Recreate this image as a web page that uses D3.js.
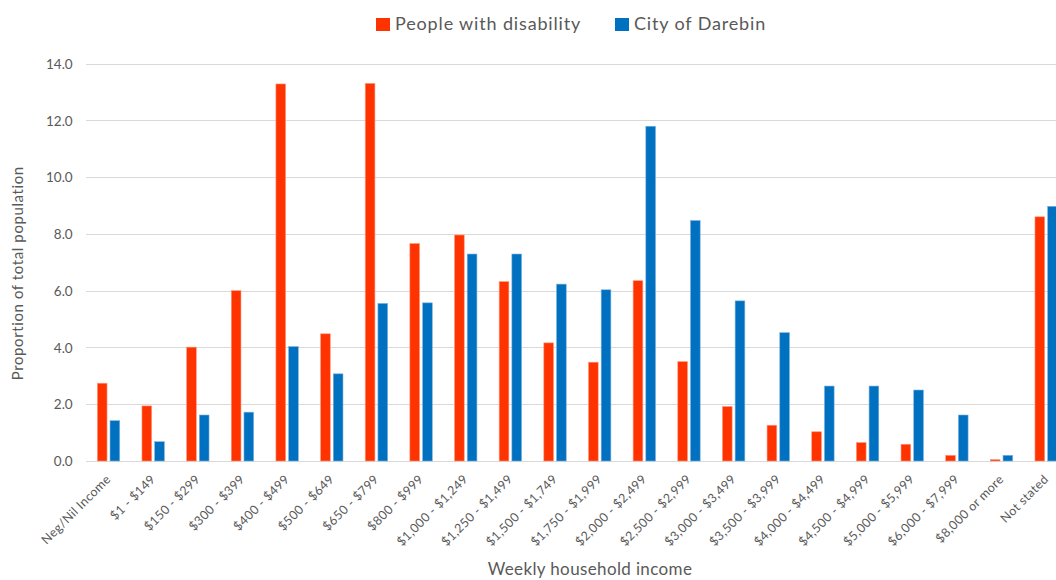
<!DOCTYPE html>
<html>
<head>
<meta charset="utf-8">
<script src="https://cdn.jsdelivr.net/npm/d3@7"></script>
<style>
  html, body { margin: 0; padding: 0; background: #fff; overflow: hidden; }
  svg { display: block; font-family: Lato, "Open Sans", sans-serif; }
</style>
</head>
<body>
<svg id="chart" width="1056" height="580"></svg>
<script>
// Weekly household income brackets
const categories = [
  "Neg/Nil Income", "$1 - $149", "$150 - $299", "$300 - $399", "$400 - $499",
  "$500 - $649", "$650 - $799", "$800 - $999", "$1,000 - $1,249", "$1,250 - $1,499",
  "$1,500 - $1,749", "$1,750 - $1,999", "$2,000 - $2,499", "$2,500 - $2,999",
  "$3,000 - $3,499", "$3,500 - $3,999", "$4,000 - $4,499", "$4,500 - $4,999",
  "$5,000 - $5,999", "$6,000 - $7,999", "$8,000 or more", "Not stated"
];

// Proportion of total population (%)
const disability = [
  2.74, 1.94, 4.01, 6.00, 13.28, 4.48, 13.30, 7.66, 7.96, 6.32, 4.16,
  3.48, 6.35, 3.50, 1.92, 1.26, 1.03, 0.65, 0.59, 0.20, 0.05, 8.60
];
const darebin = [
  1.42, 0.68, 1.62, 1.72, 4.03, 3.07, 5.55, 5.57, 7.29, 7.29, 6.23,
  6.03, 11.79, 8.47, 5.64, 4.52, 2.64, 2.64, 2.50, 1.62, 0.20, 8.97
];

const seriesNames = ["People with disability", "City of Darebin"];
const yTicks = [0, 2, 4, 6, 8, 10, 12, 14];

const colors = { "People with disability": "#ff3300", "City of Darebin": "#0070c0" };
const strokes = { "People with disability": "#ff9a80", "City of Darebin": "#7fb3dd" };

const svg = d3.select("#chart");
const textColor = "#595959";

// Plot area (runs slightly past the right edge of the page)
const plotLeft = 86.2, plotRight = 1068.5, plotTop = 63.5, plotBottom = 461;

const x0 = d3.scaleBand().domain(categories).range([plotLeft, plotRight])
  .paddingInner(0.498).paddingOuter(0.249);
const x1 = d3.scaleBand().domain(seriesNames).range([0, x0.bandwidth()])
  .paddingInner(0.236).paddingOuter(0);
const y = d3.scaleLinear().domain([0, 14]).range([plotBottom, plotTop]);

// Horizontal gridlines
svg.append("g").selectAll("line").data(yTicks).join("line")
  .attr("x1", plotLeft).attr("x2", plotRight)
  .attr("y1", d => Math.round(y(d)) + 0.5).attr("y2", d => Math.round(y(d)) + 0.5)
  .attr("stroke", "#d9d9d9").attr("stroke-width", 1.2);

// Y axis labels
const yAxis = d3.axisLeft(y).tickValues(yTicks).tickFormat(d3.format(".1f")).tickSize(0).tickPadding(0);
const gy = svg.append("g").attr("transform", `translate(${plotLeft - 13.5},0)`).call(yAxis);
gy.select(".domain").remove();
gy.selectAll("text").attr("fill", textColor).style("font-size", "13.5px")
  .style("font-family", "Lato, sans-serif").attr("dy", "0.35em");

// Bars
const rows = categories.map((c, i) => ({ cat: c, values: [disability[i], darebin[i]] }));
const groups = svg.append("g").selectAll("g").data(rows).join("g")
  .attr("transform", d => `translate(${x0(d.cat)},0)`);
groups.selectAll("rect")
  .data(d => seriesNames.map((s, k) => ({ s, v: d.values[k] })))
  .join("rect")
  .attr("x", d => x1(d.s))
  .attr("width", x1.bandwidth())
  .attr("y", d => y(d.v))
  .attr("height", d => y(0) - y(d.v))
  .attr("fill", d => colors[d.s])
  .attr("stroke", d => strokes[d.s])
  .attr("stroke-width", 0.6);

// X axis category labels, rotated
const xAxis = d3.axisBottom(x0).tickSize(0).tickPadding(0);
const gx = svg.append("g").attr("transform", `translate(0,${plotBottom})`).call(xAxis);
gx.select(".domain").remove();
gx.selectAll(".tick text")
  .attr("fill", textColor)
  .style("font-size", "12.5px")
  .style("letter-spacing", "0.35px")
  .style("font-family", "Lato, sans-serif")
  .attr("text-anchor", "end")
  .attr("dy", 0)
  .attr("transform", "translate(3,19) rotate(-45)");

// Axis titles
svg.append("text")
  .attr("transform", `translate(23,${(plotTop + plotBottom) / 2 + 11}) rotate(-90)`)
  .attr("text-anchor", "middle")
  .attr("fill", textColor)
  .style("font-size", "15px")
  .style("letter-spacing", "0.6px")
  .text("Proportion of total population");

svg.append("text")
  .attr("x", 590).attr("y", 575)
  .attr("text-anchor", "middle")
  .attr("fill", textColor)
  .style("font-size", "17px")
  .style("letter-spacing", "0.37px")
  .text("Weekly household income");

// Legend
const legend = svg.append("g");
const legendItems = [
  { name: seriesNames[0], x: 376 },
  { name: seriesNames[1], x: 615 }
];
legendItems.forEach(it => {
  legend.append("rect")
    .attr("x", it.x).attr("y", 18).attr("width", 14).attr("height", 13)
    .attr("fill", colors[it.name]);
  legend.append("text")
    .attr("x", it.x + 19).attr("y", 30)
    .attr("fill", textColor)
    .style("font-size", "18px")
    .style("letter-spacing", "0.85px")
    .text(it.name);
});
</script>
</body>
</html>
